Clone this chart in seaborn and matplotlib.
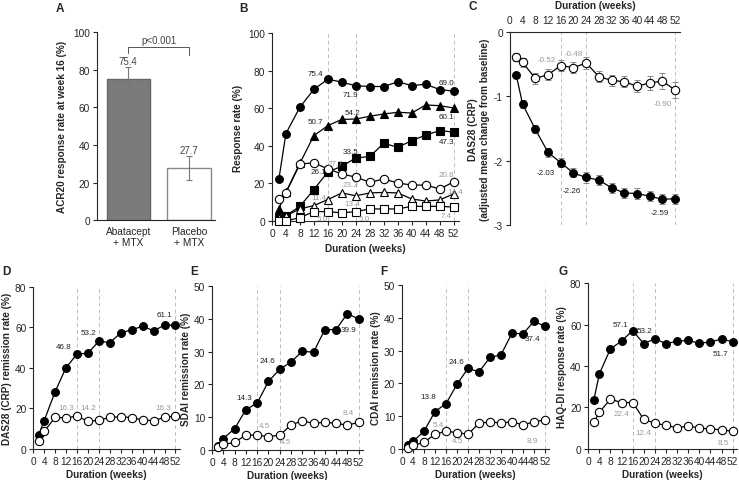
import matplotlib
matplotlib.use("Agg")
import matplotlib.pyplot as plt
import seaborn as sns
import pandas as pd

# ---- data ----
weeks = [2, 4, 8, 12, 16, 20, 24, 28, 32, 36, 40, 44, 48, 52]
groups = ["Abatacept\n+ MTX", "Placebo\n+ MTX"]

acr20_wk16 = [75.4, 27.7]
acr20_wk16_err = [6.0, 6.5]

acr20_abat = [22.5, 46.5, 60.5, 70.0, 75.4, 73.8, 71.9, 71.5, 71.5, 74.0, 72.0, 72.7, 69.9, 69.0]
acr50_abat = [6.4, 15.3, 30.7, 45.4, 50.7, 54.0, 54.2, 55.7, 56.9, 57.8, 57.4, 61.7, 61.3, 60.1]
acr70_abat = [1.6, 2.8, 7.8, 16.7, 26.1, 29.1, 33.5, 34.3, 41.3, 39.2, 42.7, 45.7, 48.0, 47.3]
acr20_plac = [11.7, 15.0, 30.3, 30.9, 27.7, 25.0, 23.3, 20.6, 22.3, 20.2, 19.1, 19.1, 17.0, 20.8]
acr50_plac = [1.6, 2.8, 6.4, 8.2, 11.4, 14.9, 13.4, 14.9, 15.2, 14.9, 11.7, 10.6, 11.2, 14.4]
acr70_plac = [0.0, 0.0, 1.8, 5.0, 5.0, 4.3, 5.0, 6.4, 6.4, 6.4, 7.8, 7.8, 7.8, 7.4]

das_chg_abat = [-0.67, -1.12, -1.51, -1.87, -2.03, -2.19, -2.26, -2.30, -2.42, -2.50, -2.51, -2.55, -2.60, -2.59]
das_chg_plac = [-0.39, -0.47, -0.72, -0.66, -0.52, -0.55, -0.48, -0.69, -0.75, -0.77, -0.84, -0.79, -0.76, -0.90]
das_se_abat = [0.05, 0.06, 0.06, 0.07, 0.07, 0.07, 0.08, 0.08, 0.08, 0.08, 0.08, 0.08, 0.08, 0.08]
das_se_plac = [0.06, 0.07, 0.08, 0.08, 0.08, 0.08, 0.09, 0.09, 0.09, 0.09, 0.09, 0.11, 0.12, 0.12]

das_rem_abat = [7.0, 14.0, 28.3, 40.2, 46.8, 47.3, 53.2, 52.5, 57.3, 58.8, 60.6, 58.3, 61.1, 61.1]
das_rem_plac = [3.8, 8.7, 15.6, 15.3, 16.3, 13.6, 14.2, 15.6, 15.9, 15.5, 14.2, 14.0, 15.6, 16.3]
sdai_abat = [1.2, 3.5, 6.5, 12.3, 14.3, 20.9, 24.6, 26.8, 30.1, 29.8, 36.7, 36.7, 41.6, 39.9]
sdai_plac = [0.9, 1.7, 2.3, 4.6, 4.5, 4.1, 4.5, 7.6, 8.9, 8.1, 8.5, 8.1, 7.6, 8.4]
cdai_abat = [1.3, 2.3, 5.4, 11.4, 13.8, 19.7, 24.6, 23.5, 27.9, 28.7, 35.3, 35.1, 38.9, 37.4]
cdai_plac = [0.4, 1.1, 2.0, 4.5, 5.4, 5.0, 4.5, 7.8, 8.3, 7.9, 8.3, 7.3, 8.3, 8.9]
haq_abat = [23.5, 36.2, 48.3, 52.0, 57.1, 50.7, 53.2, 50.7, 52.0, 52.3, 51.0, 51.6, 53.0, 51.7]
haq_plac = [12.8, 17.7, 24.0, 22.4, 22.4, 14.3, 12.4, 11.4, 10.2, 11.1, 10.1, 9.6, 9.3, 8.5]

tick_weeks = list(range(0, 53, 4))
ref_weeks = [16, 24, 52]

# ---- style ----
sns.set_theme(style="ticks")
plt.rcParams["font.family"] = ["Liberation Sans", "DejaVu Sans"]
plt.rcParams["axes.unicode_minus"] = False
plt.rcParams["axes.linewidth"] = 0.8
plt.rcParams["xtick.major.width"] = 0.8
plt.rcParams["ytick.major.width"] = 0.8
plt.rcParams["xtick.major.size"] = 3
plt.rcParams["ytick.major.size"] = 3
plt.rcParams["xtick.labelsize"] = 7.3
plt.rcParams["ytick.labelsize"] = 7.3
plt.rcParams["xtick.major.pad"] = 2
plt.rcParams["ytick.major.pad"] = 2

DARK = "#222222"
GREY = "#9a9a9a"
LAB = dict(fontsize=7.2, fontweight="bold")
ANN = 5.8

fig = plt.figure(figsize=(7.39, 4.81), dpi=100)


def line(ax, y, marker, filled, ms=5.6):
    sns.lineplot(x=weeks, y=y, ax=ax, color="black", lw=0.9, marker=marker,
                 markersize=ms, markerfacecolor="black" if filled else "white",
                 markeredgecolor="black", markeredgewidth=0.8, clip_on=False,
                 zorder=3)


def refs(ax):
    for w in ref_weeks:
        ax.axvline(w, color="#bdbdbd", lw=0.7, ls=(0, (4, 3)), zorder=1)


def label(ax, series, wk, tx, ty, color, fmt="{:.1f}"):
    ax.text(tx, ty, fmt.format(series[weeks.index(wk)]), fontsize=ANN, color=color,
            ha="center", va="center", zorder=5)


def week_axis(ax):
    ax.set_xlim(0, 53.5)
    ax.set_xticks(tick_weeks)
    ax.set_xticklabels([str(t) for t in tick_weeks])
    sns.despine(ax=ax)


# ---- A ----
axA = fig.add_axes([0.131, 0.5405, 0.16, 0.39])
dfA = pd.DataFrame({"group": groups, "rate": acr20_wk16})
sns.barplot(data=dfA, x="group", y="rate", ax=axA, hue="group",
            palette=["#7b7b7b", "white"], width=0.71, legend=False)
for p, ec in zip(axA.patches, ["#666666", "#888888"]):
    p.set_edgecolor(ec)
    p.set_linewidth(1.0)
axA.errorbar([0, 1], acr20_wk16, yerr=acr20_wk16_err, fmt="none",
             ecolor="#777777", elinewidth=0.8, capsize=2.5, capthick=0.8)
for i, v in enumerate(acr20_wk16):
    axA.text(i, v + acr20_wk16_err[i] + 3.2, f"{v:.1f}", fontsize=7,
             color="#444444", ha="center", va="center")
axA.plot([0, 0, 1, 1], [89, 92, 92, 88], color="#555555", lw=0.7)
axA.text(0.5, 96, "p<0.001", fontsize=7, color="#444444", ha="center", va="center")
axA.set_xlim(-0.52, 1.43)
axA.set_ylim(0, 100)
axA.set_yticks([0, 20, 40, 60, 80, 100])
axA.set_xlabel("")
axA.set_ylabel("ACR20 response rate at week 16 (%)", labelpad=4, **LAB)
axA.tick_params(axis="x", length=0, pad=4)
sns.despine(ax=axA)

# ---- B ----
axB = fig.add_axes([0.368, 0.5385, 0.253, 0.391])
refs(axB)
line(axB, acr20_abat, "o", True)
line(axB, acr50_abat, "^", True)
line(axB, acr70_abat, "s", True, ms=5.8)
line(axB, acr20_plac, "o", False, ms=6.0)
line(axB, acr50_plac, "^", False)
line(axB, acr70_plac, "s", False, ms=5.8)
week_axis(axB)
axB.set_ylim(0, 100)
axB.set_yticks([0, 20, 40, 60, 80, 100])
axB.set_xlabel("Duration (weeks)", labelpad=4, **LAB)
axB.set_ylabel("Response rate (%)", labelpad=4, **LAB)
for s, wk, tx, ty, c in [
    (acr20_abat, 16, 12.5, 78.5, DARK), (acr20_abat, 24, 22.5, 67.5, DARK),
    (acr20_abat, 52, 50.0, 73.5, DARK), (acr50_abat, 16, 12.5, 53.0, DARK),
    (acr50_abat, 24, 23.0, 57.5, DARK), (acr50_abat, 52, 50.0, 55.5, DARK),
    (acr70_abat, 24, 22.5, 37.0, DARK), (acr70_abat, 16, 13.3, 26.5, DARK),
    (acr70_abat, 52, 50.0, 42.5, DARK), (acr20_plac, 16, 18.0, 30.5, GREY),
    (acr20_plac, 24, 22.5, 19.5, GREY), (acr20_plac, 52, 50.0, 24.5, GREY),
    (acr50_plac, 16, 13.5, 12.5, GREY), (acr50_plac, 24, 23.0, 9.5, GREY),
    (acr50_plac, 52, 52.5, 15.5, GREY), (acr70_plac, 16, 14.5, 1.5, GREY),
    (acr70_plac, 24, 26.5, 1.5, GREY), (acr70_plac, 52, 50.0, 3.0, GREY)]:
    label(axB, s, wk, tx, ty, c)

# ---- C ----
axC = fig.add_axes([0.690, 0.530, 0.230, 0.401])
refs(axC)
axC.errorbar(weeks, das_chg_abat, yerr=das_se_abat, fmt="none", ecolor="#888888",
             elinewidth=0.7, capsize=2, capthick=0.7, zorder=2)
axC.errorbar(weeks, das_chg_plac, yerr=das_se_plac, fmt="none", ecolor="#888888",
             elinewidth=0.7, capsize=2, capthick=0.7, zorder=2)
line(axC, das_chg_abat, "o", True)
line(axC, das_chg_plac, "o", False, ms=6.0)
axC.set_xlim(0, 53.5)
axC.set_ylim(-3, 0)
axC.set_yticks([0, -1, -2, -3])
axC.set_yticklabels(["0", "-1", "-2", "-3"])
axC.set_xticks(tick_weeks)
axC.xaxis.tick_top()
axC.xaxis.set_label_position("top")
axC.set_xlabel("Duration (weeks)", labelpad=5, **LAB)
axC.set_ylabel("DAS28 (CRP)\n(adjusted mean change from baseline)", labelpad=3, **LAB)
sns.despine(ax=axC, top=False, bottom=True)
for s, wk, tx, ty, c in [
    (das_chg_plac, 16, 11.7, -0.43, GREY), (das_chg_plac, 24, 20.0, -0.33, GREY),
    (das_chg_plac, 52, 48.0, -1.11, GREY), (das_chg_abat, 16, 11.4, -2.19, DARK),
    (das_chg_abat, 24, 19.6, -2.46, DARK), (das_chg_abat, 52, 47.3, -2.81, DARK)]:
    label(axC, s, wk, tx, ty, c, fmt="{:.2f}")

# ---- D-G ----
bottom_panels = [
    ([0.045, 0.0645, 0.198, 0.337], das_rem_abat, das_rem_plac, 80, 20,
     "DAS28 (CRP) remission rate (%)",
     [(16, 11.2, 50.4, 1), (24, 20.3, 57.3, 1), (52, 48.0, 66.3, 1),
      (16, 11.9, 20.5, 0), (24, 20.3, 20.5, 0), (52, 47.7, 20.5, 0)]),
    ([0.287, 0.0624, 0.204, 0.341], sdai_abat, sdai_plac, 50, 10,
     "SDAI remission rate (%)",
     [(16, 11.6, 15.9, 1), (24, 19.7, 27.2, 1), (52, 48.6, 36.7, 1),
      (16, 18.6, 7.6, 0), (24, 26.2, 2.7, 0), (52, 48.4, 11.3, 0)]),
    ([0.544, 0.0645, 0.199, 0.341], cdai_abat, cdai_plac, 50, 10,
     "CDAI remission rate (%)",
     [(16, 9.5, 16.1, 1), (24, 19.7, 26.6, 1), (52, 47.4, 33.8, 1),
      (16, 13.1, 7.6, 0), (24, 20.3, 2.5, 0), (52, 47.4, 2.5, 0)]),
    ([0.796, 0.0645, 0.201, 0.345], haq_abat, haq_plac, 80, 20,
     "HAQ-DI response rate (%)",
     [(16, 11.5, 59.8, 1), (24, 20.4, 57.0, 1), (52, 47.7, 45.8, 1),
      (16, 11.8, 16.9, 0), (24, 19.8, 8.0, 0), (52, 48.5, 2.9, 0)]),
]
for rect, abat, plac, ymax, ystep, ylab, labs in bottom_panels:
    ax = fig.add_axes(rect)
    refs(ax)
    line(ax, abat, "o", True)
    line(ax, plac, "o", False, ms=6.0)
    week_axis(ax)
    ax.set_ylim(0, ymax)
    ax.set_yticks(list(range(0, ymax + 1, ystep)))
    ax.set_xlabel("Duration (weeks)", labelpad=2.5, **LAB)
    ax.set_ylabel(ylab, labelpad=2, **LAB)
    for wk, tx, ty, is_abat in labs:
        label(ax, abat if is_abat else plac, wk, tx, ty, DARK if is_abat else GREY)

# ---- panel letters ----
for letter, x, y in [("A", 60, 9), ("B", 243, 9), ("C", 473, 7), ("D", 6, 272),
                     ("E", 194, 272), ("F", 384, 272), ("G", 563, 272)]:
    fig.text(x / 739, 1 - y / 481, letter, fontsize=8.5, fontweight="bold",
             ha="center", va="center")

fig.savefig("out.png", dpi=100)
